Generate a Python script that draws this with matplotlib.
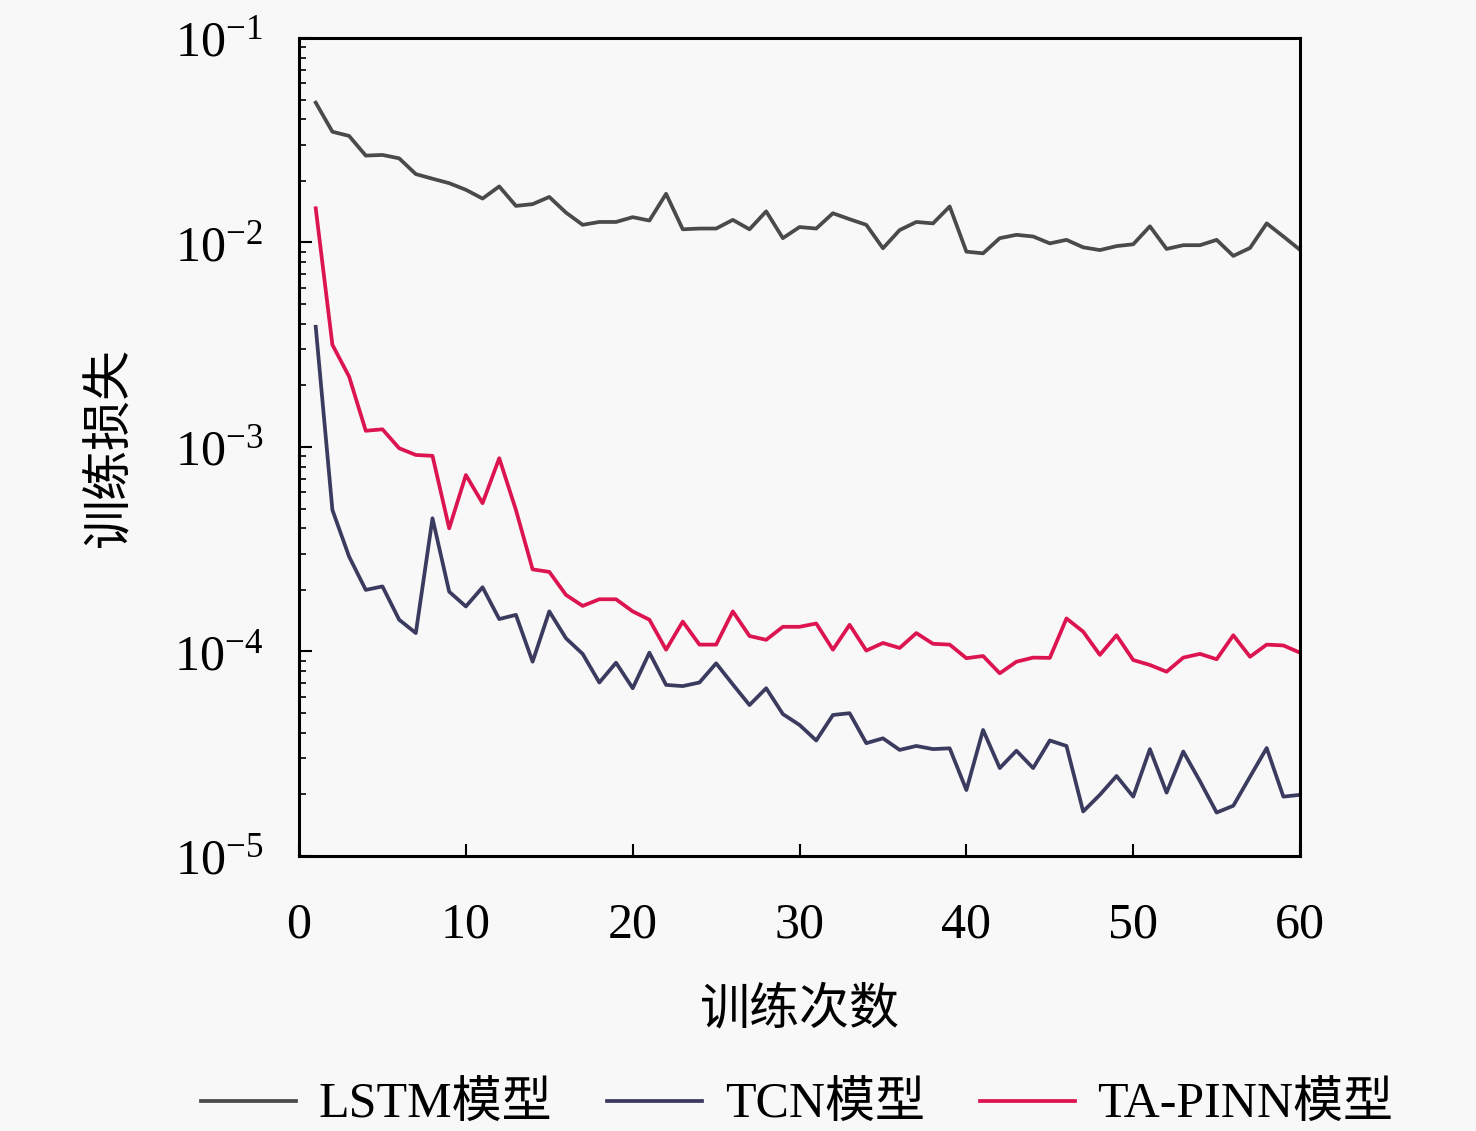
import numpy as np
import matplotlib
matplotlib.use("Agg")
import matplotlib.pyplot as plt

plt.rcParams['font.family'] = ['Liberation Serif', 'Noto Sans CJK SC', 'DejaVu Sans']
plt.rcParams['mathtext.fontset'] = 'stix'

epochs = list(range(1, 61))

lstm_loss = [0.0483, 0.0348, 0.0332, 0.0266, 0.0268, 0.0258, 0.0216, 0.0205, 0.0195, 0.0181,
             0.0164, 0.0188, 0.0151, 0.0154, 0.0167, 0.0140, 0.0122, 0.0126, 0.0126, 0.0133,
             0.0128, 0.0173, 0.0116, 0.0117, 0.0117, 0.0129, 0.0116, 0.0142, 0.0105, 0.0119,
             0.0117, 0.0139, 0.0130, 0.0122, 0.00937, 0.0115, 0.0126, 0.0124, 0.0150, 0.00902,
             0.00885, 0.0105, 0.0109, 0.0107, 0.0099, 0.0103, 0.00947, 0.00918, 0.0096, 0.0098,
             0.0120, 0.0093, 0.0097, 0.0097, 0.0103, 0.0086, 0.0094, 0.0124, 0.0107, 0.0092]

tcn_loss = [0.00387, 0.000492, 0.000291, 0.000200, 0.000208, 0.000143, 0.000123, 0.000448, 0.000196, 0.000166,
            0.000206, 0.000144, 0.000151, 0.0000891, 0.000157, 0.000116, 0.0000973, 0.0000705, 0.0000881, 0.0000661,
            0.0000986, 0.0000686, 0.0000677, 0.0000705, 0.0000875, 0.0000690, 0.0000547, 0.0000661, 0.0000494, 0.0000437,
            0.0000367, 0.0000489, 0.0000499, 0.0000356, 0.0000376, 0.0000330, 0.0000345, 0.0000333, 0.0000336, 0.0000210,
            0.0000413, 0.0000269, 0.0000327, 0.0000269, 0.0000367, 0.0000345, 0.0000165, 0.0000199, 0.0000246, 0.0000195,
            0.0000333, 0.0000204, 0.0000324, 0.0000232, 0.0000163, 0.0000176, 0.0000244, 0.0000337, 0.0000195, 0.0000199]

tapinn_loss = [0.0147, 0.00316, 0.00221, 0.00120, 0.00122, 0.000986, 0.000914, 0.000905, 0.000400, 0.000729,
               0.000531, 0.000881, 0.000492, 0.000252, 0.000245, 0.000189, 0.000167, 0.000180, 0.000180, 0.000157,
               0.000143, 0.000102, 0.000140, 0.000108, 0.000108, 0.000157, 0.000119, 0.000114, 0.000132, 0.000132,
               0.000137, 0.000102, 0.000135, 0.000101, 0.000110, 0.000104, 0.000123, 0.000109, 0.000108, 0.0000927,
               0.0000950, 0.0000782, 0.0000891, 0.0000933, 0.0000930, 0.000145, 0.000125, 0.0000962, 0.000120, 0.0000908,
               0.0000859, 0.0000796, 0.0000933, 0.0000973, 0.0000916, 0.000120, 0.0000942, 0.000108, 0.000107, 0.0000986]

labels = ["LSTM模型", "TCN模型", "TA-PINN模型"]
colors = ["#4a4a4a", "#3b3b60", "#dc1450"]

fs = 36
bg = "#f8f8f8"

fig = plt.figure(figsize=(14.76, 11.31), dpi=100, facecolor=bg)
ax = fig.add_axes([0.2026, 0.2432, 0.6782, 0.7232], facecolor=bg)

for series, lab, col in zip([lstm_loss, tcn_loss, tapinn_loss], labels, colors):
    ax.plot(epochs, series, color=col, lw=2.7, label=lab)

ax.set_yscale("log")
ax.set_ylim(1e-5, 1e-1)
ax.set_xlim(0, 60)
ax.set_xticks([0, 10, 20, 30, 40, 50, 60])

ax.tick_params(which='major', direction='in', length=9, width=1.5, labelsize=fs)
ax.tick_params(which='minor', direction='in', length=5, width=1.2)
ax.tick_params(axis='x', pad=33)
ax.tick_params(axis='y', pad=26)
for sp in ax.spines.values():
    sp.set_linewidth(2.2)

ax.set_xlabel("训练次数", fontsize=fs, labelpad=28)
ax.set_ylabel("训练损失", fontsize=fs, labelpad=29)

leg = fig.legend(loc='center', bbox_to_anchor=(0.54, 0.022), ncol=3, frameon=False,
                 fontsize=fs, handlelength=1.9, handletextpad=0.45, columnspacing=1.1)

fig.savefig("out.png", dpi=100, facecolor=bg)
